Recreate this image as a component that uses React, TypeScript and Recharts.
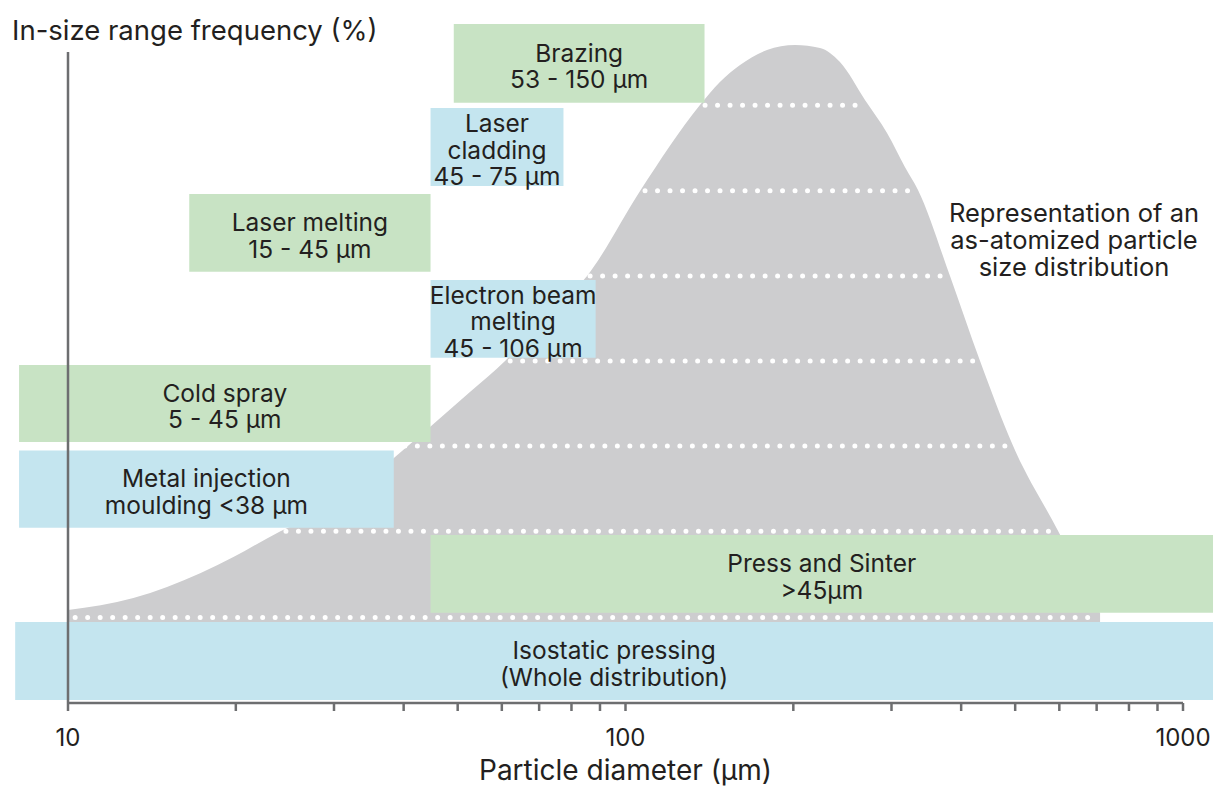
import React from 'react';
import { ComposedChart, Area, XAxis, YAxis, ReferenceArea, ReferenceLine } from 'recharts';

const FONT = 'Inter, "Noto Sans", sans-serif';
const INK = '#231f20';
const AXIS = '#6d6e70';
const GRAY = '#cdcdcf';
const GREEN = '#c8e3c4';
const BLUE = '#c4e5ef';

// outline of the as-atomized distribution: diameter (µm) -> relative frequency
const diameters = [10, 13.1, 17.3, 19.8, 24.0, 30.8, 38.6, 44.6, 52.6, 60.8, 71.7, 85.3, 106.2, 136.0, 147.7, 160.5, 179.4, 201.4, 223.3, 242.5, 268.9, 294.5, 317.1, 334.7, 382, 432.5, 495.8, 597, 710];
const frequency = [93, 105, 130, 146, 171.5, 198, 246, 276, 311, 342, 385, 427, 512, 598, 621, 638, 653, 658, 655, 641, 603, 570, 536, 513, 427, 342, 257, 172, 90];
const BASE = 81;

// process windows, bottom to top
const bandLines = [
  ['Isostatic pressing', '(Whole distribution)'],
  ['Press and Sinter', '>45µm'],
  ['Metal injection', 'moulding <38 µm'],
  ['Cold spray', '5 - 45 µm'],
  ['Electron beam', 'melting', '45 - 106 µm'],
  ['Laser melting', '15 - 45 µm'],
  ['Laser', 'cladding', '45 - 75 µm'],
  ['Brazing', '53 - 150 µm'],
];
const bandFrom = [8.04, 44.7, 8.17, 8.17, 44.7, 16.5, 44.7, 49.2];
const bandTo = [1132, 1132, 38.4, 44.7, 88.4, 44.7, 77.4, 138.6];
const bandLow = [3, 90.3, 175.3, 261, 345.3, 431.3, 517, 600.3];
const bandHigh = [81, 168, 252.5, 338, 423, 509, 595, 679];

// dotted slices across the distribution
const sliceLevel = [85.5, 171.7, 257, 342, 427, 512.3, 597.7];
const sliceFrom = [10.3, 24.6, 40.2, 62.1, 86.4, 108.4, 138.9];
const sliceTo = [695, 589.5, 491.4, 428.9, 378.8, 330.6, 268.9];

const xTicks = [10, 20, 30, 40, 50, 60, 70, 80, 90, 100, 200, 300, 400, 500, 600, 700, 800, 900, 1000];
const xTickLabels = [10, 100, 1000];

const curve = diameters.map((d, i) => ({ d, f: frequency[i] }));

function BandLabel({ viewBox, lines }: { viewBox?: any; lines: string[] }) {
  if (!viewBox) return null;
  const cx = viewBox.x + viewBox.width / 2;
  const cy = viewBox.y + viewBox.height / 2;
  const lh = 26.5;
  const first = cy - ((lines.length - 1) * lh) / 2 + 11.5;
  return (
    <g>
      {lines.map((l, i) => (
        <text key={i} x={cx} y={first + i * lh} textAnchor="middle" fill={INK} fontSize={24.5} fontFamily={FONT}>
          {l}
        </text>
      ))}
    </g>
  );
}

export default function App() {
  return (
    <div style={{ position: 'absolute', left: 0, top: 0, width: 1214, height: 788, fontFamily: FONT, background: '#fff' }}>
      <div style={{ position: 'absolute', left: 12, top: 16, fontSize: 27.5, lineHeight: '28px', color: INK, whiteSpace: 'nowrap' }}>
        In-size range frequency (%)
      </div>
      <div
        style={{
          position: 'absolute',
          left: 924,
          top: 199,
          width: 300,
          textAlign: 'center',
          fontSize: 25.5,
          lineHeight: '27px',
          color: INK,
          zIndex: 2,
          whiteSpace: 'nowrap',
        }}
      >
        Representation of an
        <br />
        as-atomized particle
        <br />
        size distribution
      </div>
      <ComposedChart width={1214} height={788} data={curve} margin={{ top: 0, right: 31, bottom: 0, left: 68 }}>
        <XAxis
          dataKey="d"
          type="number"
          scale="log"
          domain={[10, 1000]}
          allowDataOverflow
          ticks={xTicks}
          interval={0}
          tickFormatter={(v: number) => (xTickLabels.includes(v) ? String(v) : '')}
          tickSize={8}
          tickMargin={18}
          height={85}
          axisLine={{ stroke: AXIS, strokeWidth: 2.5 }}
          tickLine={{ stroke: AXIS, strokeWidth: 2.5 }}
          tick={{ fill: INK, fontSize: 24 }}
          label={{ value: 'Particle diameter (µm)', position: 'insideBottom', offset: 8, fill: INK, fontSize: 28 }}
        />
        <YAxis type="number" domain={[0, 703]} hide allowDataOverflow />
        <Area
          dataKey="f"
          type="monotone"
          baseValue={BASE}
          fill={GRAY}
          fillOpacity={1}
          stroke="none"
          isAnimationActive={false}
          zIndex={100}
        />
        {sliceLevel.map((lv, i) => (
          <ReferenceLine
            key={'s' + i}
            segment={[
              { x: sliceFrom[i], y: lv },
              { x: sliceTo[i], y: lv },
            ]}
            stroke="#ffffff"
            strokeWidth={5}
            strokeDasharray="0 12.5"
            strokeLinecap="round"
            ifOverflow="visible"
            zIndex={150}
          />
        ))}
        {bandLines.map((lines, i) => (
          <ReferenceArea
            key={'b' + i}
            x1={bandFrom[i]}
            x2={bandTo[i]}
            y1={bandLow[i]}
            y2={bandHigh[i]}
            fill={i % 2 === 0 ? BLUE : GREEN}
            fillOpacity={1}
            stroke="none"
            ifOverflow="visible"
            zIndex={200}
            label={<BandLabel lines={lines} />}
          />
        ))}
        <ReferenceLine
          segment={[
            { x: 10, y: 0 },
            { x: 10, y: 651 },
          ]}
          stroke={AXIS}
          strokeWidth={2.5}
          ifOverflow="visible"
          zIndex={600}
        />
      </ComposedChart>
    </div>
  );
}
